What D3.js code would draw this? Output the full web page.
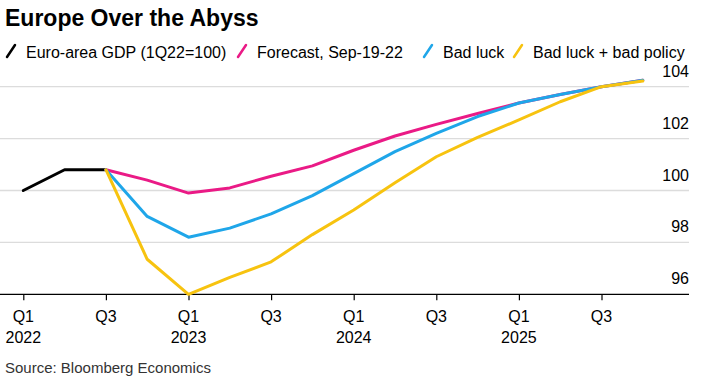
<!DOCTYPE html>
<html>
<head>
<meta charset="utf-8">
<script src="https://cdn.jsdelivr.net/npm/d3@7"></script>
<style>
  html, body { margin: 0; padding: 0; background: #fff; }
  svg { display: block; font-family: "Liberation Sans", Arial, sans-serif; }
</style>
</head>
<body>
<svg id="chart" width="702" height="378"></svg>
<script>
// ---- data ----
const quarters = ["Q1 2022","Q2 2022","Q3 2022","Q4 2022","Q1 2023","Q2 2023","Q3 2023","Q4 2023",
                  "Q1 2024","Q2 2024","Q3 2024","Q4 2024","Q1 2025","Q2 2025","Q3 2025","Q4 2025"];
const gdpActual = [100.0, 100.8, 100.8];
const forecast  = [null, null, 100.8, 100.4, 99.9, 100.1, 100.55, 100.95, 101.55, 102.1, 102.55, 102.97, 103.37, 103.7, 104.0, 104.25];
const badLuck   = [null, null, 100.8, 99.0, 98.2, 98.55, 99.1, 99.8, 100.65, 101.5, 102.2, 102.85, 103.37, 103.7, 104.0, 104.25];
const badPolicy = [null, null, 100.8, 97.35, 96.0, 96.65, 97.25, 98.3, 99.25, 100.3, 101.3, 102.05, 102.72, 103.42, 104.0, 104.22];
const yTicks = [96, 98, 100, 102, 104];
const xTickIdx = [0, 2, 4, 6, 8, 10, 12, 14];
const xTickLabels = [["Q1","2022"],["Q3",""],["Q1","2023"],["Q3",""],["Q1","2024"],["Q3",""],["Q1","2025"],["Q3",""]];
const legendItems = ["Euro-area GDP (1Q22=100)", "Forecast, Sep-19-22", "Bad luck", "Bad luck + bad policy"];
const colors = ["#000000", "#ea1a86", "#1fa6e9", "#f7c30f"];

// ---- layout ----
const svg = d3.select("#chart");
const x = d3.scaleLinear().domain([0, 15]).range([23.3, 642.8]);
const y = d3.scaleLinear().domain([96, 104]).range([294.3, 86.7]);
const plotLeft = 0, plotRight = 689;

// title
svg.append("text").attr("x", 5).attr("y", 26)
  .style("font-size", "23px").style("font-weight", "bold").attr("fill", "#000")
  .text("Europe Over the Abyss");

// legend
const legendX = [7, 238, 424, 514];
legendItems.forEach((t, i) => {
  const g = svg.append("g").attr("transform", `translate(${legendX[i]},51)`);
  g.append("line").attr("x1", 0).attr("y1", 6).attr("x2", 8).attr("y2", -6)
    .attr("stroke", colors[i]).attr("stroke-width", 2.5).attr("stroke-linecap", "round");
  g.append("text").attr("x", 19).attr("y", 6.5).style("font-size", "16px").attr("fill", "#000").text(t);
});

// gridlines
svg.append("g").selectAll("line").data(yTicks.filter(d => d !== 96)).join("line")
  .attr("x1", plotLeft).attr("x2", plotRight)
  .attr("y1", d => y(d)).attr("y2", d => y(d))
  .attr("stroke", "#dcdcdc").attr("stroke-width", 1.3);

// right axis labels
svg.append("g").selectAll("text").data(yTicks).join("text")
  .attr("x", plotRight).attr("y", d => y(d) - 10)
  .attr("text-anchor", "end").style("font-size", "16px").attr("fill", "#000")
  .text(d => d);

// x axis
const xAxis = d3.axisBottom(x).tickValues(xTickIdx).tickSize(6).tickFormat("");
const gx = svg.append("g").attr("transform", `translate(0,${y(96)})`).call(xAxis);
gx.select(".domain").remove();
gx.selectAll(".tick line").attr("stroke", "#000").attr("stroke-width", 1.2);
svg.append("line").attr("x1", plotLeft).attr("x2", plotRight).attr("y1", y(96)).attr("y2", y(96))
  .attr("stroke", "#000").attr("stroke-width", 1.3);
const lbl = svg.append("g").selectAll("text").data(xTickIdx).join("text")
  .attr("text-anchor", "middle").style("font-size", "16px").attr("fill", "#000");
lbl.append("tspan").attr("x", d => x(d)).attr("y", 322).text((d, i) => xTickLabels[i][0]);
lbl.append("tspan").attr("x", d => x(d)).attr("y", 343).text((d, i) => xTickLabels[i][1]);

// lines
const line = d3.line().defined(d => d != null).x((d, i) => x(i)).y(d => y(d));
[[gdpActual, colors[0]], [forecast, colors[1]], [badLuck, colors[2]], [badPolicy, colors[3]]].forEach(([s, c]) => {
  svg.append("path").datum(s).attr("d", line).attr("fill", "none")
    .attr("stroke", c).attr("stroke-width", 3).attr("stroke-linejoin", "round").attr("stroke-linecap", "round");
});

// source
svg.append("text").attr("x", 5).attr("y", 373).style("font-size", "15px").attr("fill", "#333")
  .text("Source: Bloomberg Economics");
</script>
</body>
</html>
